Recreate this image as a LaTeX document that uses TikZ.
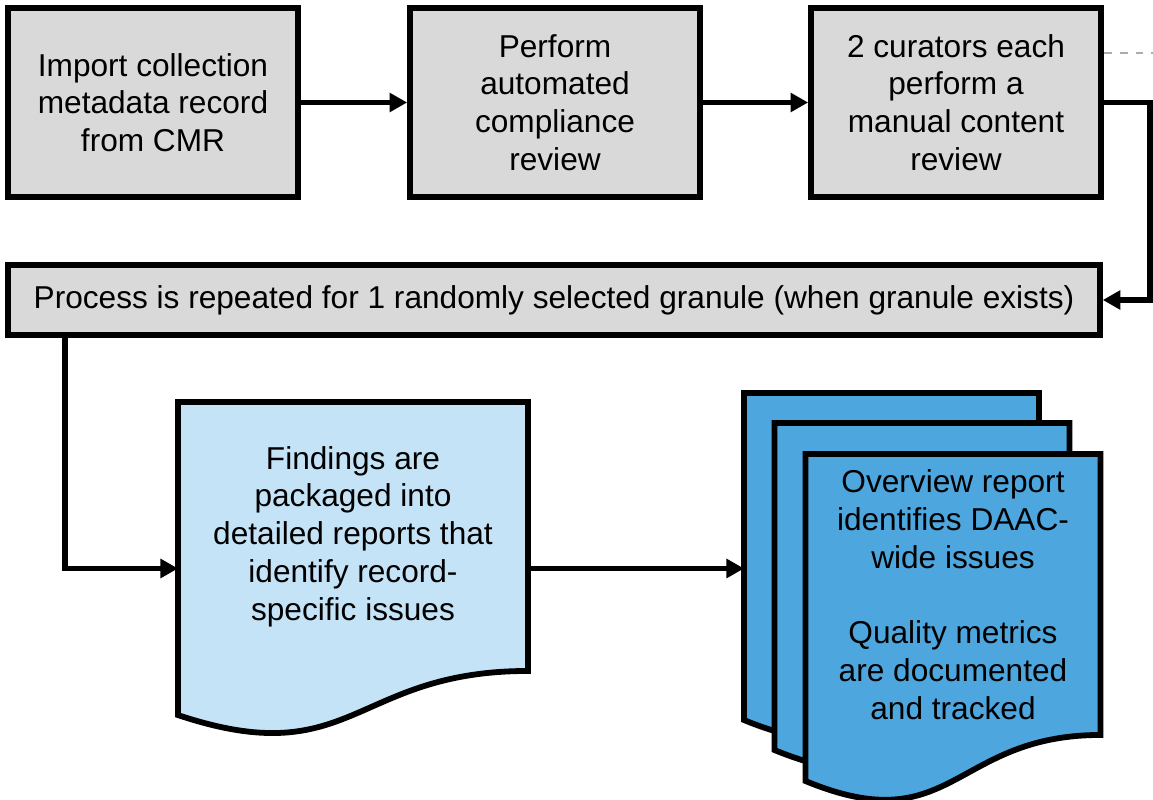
\documentclass[tikz,border=0pt]{standalone}
\usepackage{fontspec}
\setmainfont{Liberation Sans}
\usetikzlibrary{arrows.meta,calc,backgrounds}

\definecolor{boxgray}{HTML}{D9D9D9}
\definecolor{sheetlight}{HTML}{C5E3F6}
\definecolor{sheetdark}{HTML}{4DA6DE}

\tikzset{
    procbox/.style={rectangle,draw,line width=3.3pt,fill=boxgray,align=center,
        minimum width=5.8cm,minimum height=3.78cm,inner sep=0pt},
    sheet/.style={rectangle,align=center,inner sep=0pt,outer sep=0pt},
    flow/.style={line width=3.3pt,-{Triangle[length=10pt,width=10.5pt]}},
    hint/.style={line width=1.4pt,gray!65,dash pattern=on 4.5pt off 4.5pt},
}

% wavy sheet outline drawn behind node #1
\newcommand{\docsheet}[2]{%
    \begin{pgfonlayer}{background}
        \draw[line width=3.3pt,fill=#2] (#1.north west) -- (#1.north east) -- (#1.south east)
            .. controls (#1.south) and ($(#1.south)!-0.381!(#1.north)$)
            .. ($(#1.south west)!-0.164!(#1.north west)$) -- cycle;
    \end{pgfonlayer}}

\begin{document}
\begin{tikzpicture}[x=0.02cm,y=-0.02cm,every node/.append style={font=\fontsize{18}{21.5}\selectfont}]
    \useasboundingbox (0,0) rectangle (1153,800);

    % top row
    \node[procbox] (import) at (153,102.5) {Import collection\\metadata record\\from CMR};
    \node[procbox] (auto) at (555,102.5) {Perform\\automated\\compliance\\review};
    \node[procbox] (manual) at (956,102.5) {2 curators each\\perform a\\manual content\\review};
    \node[procbox,minimum width=21.84cm,minimum height=1.4cm] (repeat) at (554,300)
        {Process is repeated for 1 randomly selected granule (when granule exists)};

    % reports
    \node[sheet,minimum width=7cm,minimum height=5.38cm] (detail) at (353,536.5)
        {Findings are\\packaged into\\detailed reports that\\identify record-\\specific issues};
    \docsheet{detail}{sheetlight}
    \node[sheet,minimum width=5.9cm,minimum height=5.62cm] (stackA) at (891.5,533.5) {};
    \docsheet{stackA}{sheetdark}
    \node[sheet,minimum width=5.9cm,minimum height=5.62cm] (stackB) at (922,563.5) {};
    \docsheet{stackB}{sheetdark}
    \node[sheet,minimum width=5.9cm,minimum height=5.62cm] (overview) at (953,594.5)
        {Overview report\\identifies DAAC-\\wide issues\\[21.5pt]Quality metrics\\are documented\\and tracked};
    \docsheet{overview}{sheetdark}

    % connectors
    \coordinate (dashend) at (1153,53);
    \draw[hint] (manual.east |- dashend) -- (dashend);
    \draw[flow] (import) -- (auto);
    \draw[flow] (auto) -- (manual);
    \draw[flow] (manual.east) -- ++(46,0) |- (repeat.east);
    \draw[flow] ([xshift=1.2cm]repeat.south west) |- ([yshift=-0.64cm]detail.west);
    \draw[flow] ([yshift=-0.64cm]detail.east) -- ([yshift=-0.64cm]detail.east -| stackA.west);
\end{tikzpicture}
\end{document}
